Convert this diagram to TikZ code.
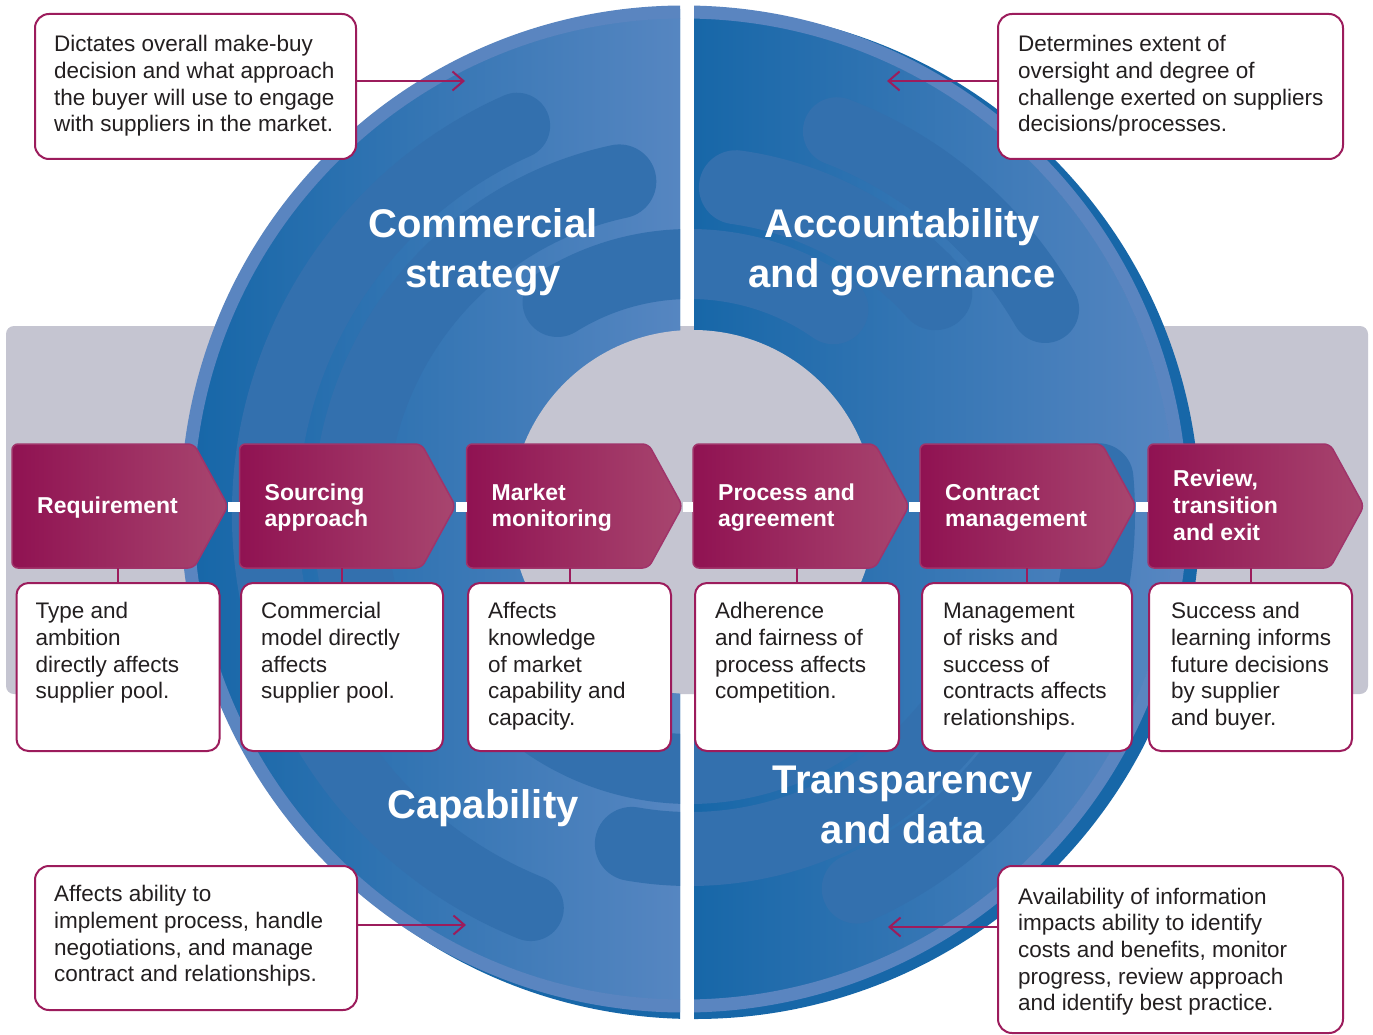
\documentclass[tikz,border=0pt]{standalone}
\usepackage{fontspec}
\setmainfont{Liberation Sans}
\usetikzlibrary{arrows.meta}

\definecolor{mag}{HTML}{9C1C5C}
\definecolor{chevA}{HTML}{901252}
\definecolor{chevB}{HTML}{A8466F}
\definecolor{chevE}{HTML}{A0346A}
\definecolor{bandgray}{HTML}{C5C5D1}
\definecolor{bdark}{HTML}{1767A8}
\definecolor{bmid}{HTML}{2A6AAC}
\definecolor{bmed}{HTML}{3370AE}
\definecolor{blight}{HTML}{5686C1}
\definecolor{brim}{HTML}{5A85C0}
\definecolor{ink}{HTML}{231F20}

\newcommand\bodyfont{\fontsize{22.5}{26.67}\selectfont}
\newcommand\chevfont{\fontsize{23}{26.67}\selectfont\bfseries}
\newcommand\titlefont{\fontsize{40}{50}\selectfont\bfseries}

\tikzset{
  calloutbox/.style={draw=mag, line width=2pt, rounded corners=14pt, fill=white, inner sep=0pt, anchor=north west},
  descbox/.style={draw=mag, line width=2pt, rounded corners=12pt, fill=white, inner sep=0pt, anchor=north west, minimum height=168pt},
  bodytext/.style={font=\bodyfont, text=ink, align=left, inner sep=0pt, anchor=north west},
  chevlabel/.style={font=\chevfont, text=white, align=left, inner sep=0pt, anchor=north west},
  titletext/.style={font=\titlefont, text=white, align=center, inner sep=0pt, anchor=north},
  chevshape/.style={left color=chevA, middle color=chevA!75!chevB, right color=chevB, draw=chevE, line width=1.5pt, rounded corners=6pt},
  capsule/.style={draw=bmed, line width=#1, line cap=round},
  capsule/.default=72pt,
  rimring/.style={draw=brim, line width=13pt},
  linkline/.style={draw=mag, line width=2pt},
  callarrow/.style={draw=mag, line width=2pt, -{Straight Barb[length=11pt,width=19pt]}},
  joinbar/.style={draw=white, line width=10pt}
}

\newcommand\chevron[4]{%
  \path[chevshape] (#2,444) -- ++(182,0) -- ++(34,62) -- ++(-34,62) -- ++(-182,0) -- cycle;
  \node[chevlabel] (#1) at (#2+25,#3) {\strut #4};
  \coordinate (#1-in) at (#2,507);
  \coordinate (#1-tip) at (#2+216,507);
  \coordinate (#1-bot) at (#2,568);
}

\newcommand\ringcaps{%
  \draw[capsule=66pt] (690,514) ++(112:425) arc[start angle=112, end angle=246, radius=425];
  \draw[capsule=74pt] (690,514) ++(150:340) arc[start angle=150, end angle=258, radius=340];
  \draw[capsule=70pt] (690,514) ++(238:250) arc[start angle=238, end angle=305, radius=250];
  \draw[capsule=74pt] (690,514) ++(40:335) arc[start angle=40, end angle=100, radius=335];
  \draw[capsule=70pt] (690,514) ++(55:255) arc[start angle=55, end angle=125, radius=255];
  \draw[capsule=68pt] (690,514) ++(291:410) arc[start angle=291, end angle=330, radius=410];
  \draw[capsule=74pt] (690,514) ++(278:330) arc[start angle=278, end angle=318, radius=330];
  \draw[capsule=70pt] (690,514) ++(-5:410) arc[start angle=-5, end angle=66, radius=410];
}

\begin{document}
\begin{tikzpicture}[x=1pt, y=-1pt]
\useasboundingbox (0,0) rectangle (1373,1035);
\fill[white] (0,0) rectangle (1373,1035);

% grey band
\fill[bandgray, rounded corners=8pt] (6,326) rectangle (1368,694);

% left half of the ring
\begin{scope}
  \clip (0,0) rectangle (680,1035);
  \fill[bdark] (695,514) circle[radius=505];
  \begin{scope}
    \clip (684,509) circle[radius=491];
    \fill[left color=bdark, middle color=bmid, right color=blight] (196,0) rectangle (680,1035);
    \ringcaps
  \end{scope}
  \draw[rimring] (684,509) circle[radius=497];
\end{scope}

% right half of the ring
\begin{scope}
  \clip (694,0) rectangle (1373,1035);
  \fill[bdark] (695,514) circle[radius=505];
  \begin{scope}
    \clip (684,509) circle[radius=491];
    \fill[left color=bdark, middle color=bmid, right color=blight] (694,0) rectangle (1175,1035);
    \ringcaps
  \end{scope}
  \draw[rimring] (684,509) circle[radius=497];
\end{scope}

% centre hole
\begin{scope}
  \clip (6,326) rectangle (1368,694);
  \fill[bandgray] (693,512) circle[radius=182];
\end{scope}

% quadrant titles
\node[titletext] (t1) at (483,202) {\strut Commercial\\strategy};
\node[titletext] (t2) at (902,202) {\strut Accountability\\and governance};
\node[titletext] (t3) at (483,783.3) {\strut Capability};
\node[titletext] (t4) at (903,758.3) {\strut Transparency\\and data};

% callouts
\node[calloutbox, minimum width=321pt, minimum height=145pt] (co1) at (34,13) {};
\node[bodytext] (co1t) at (54,33) {\strut Dictates overall make-buy\\decision and what approach\\the buyer will use to engage\\with suppliers in the market.};
\coordinate (a1) at (465,81);
\draw[callarrow] (co1.east |- a1) -- (a1);

\node[calloutbox, minimum width=345pt, minimum height=145pt] (co2) at (997,13) {};
\node[bodytext] (co2t) at (1018,33) {\strut Determines extent of\\oversight and degree of\\challenge exerted on suppliers\\decisions/processes.};
\coordinate (a2) at (887,81);
\draw[callarrow] (co2.west |- a2) -- (a2);

\node[calloutbox, minimum width=322pt, minimum height=144pt] (co3) at (34,865) {};
\node[bodytext] (co3t) at (54,883) {\strut Affects ability to\\implement process, handle\\negotiations, and manage\\contract and relationships.};
\coordinate (a3) at (466,925);
\draw[callarrow] (co3.east |- a3) -- (a3);

\node[calloutbox, minimum width=345pt, minimum height=167pt] (co4) at (997,865) {};
\node[bodytext] (co4t) at (1018,885.3) {\strut Availability of information\\impacts ability to identify\\costs and benefits, monitor\\progress, review approach\\and identify best practice.};
\coordinate (a4) at (888,927);
\draw[callarrow] (co4.west |- a4) -- (a4);

% process chevrons
\chevron{ch1}{12}{494.6}{Requirement}
\chevron{ch2}{239.5}{481.3}{Sourcing\\approach}
\chevron{ch3}{466.5}{481.3}{Market\\monitoring}
\chevron{ch4}{693}{481.3}{Process and\\agreement}
\chevron{ch5}{920}{481.3}{Contract\\management}
\chevron{ch6}{1148}{468}{Review,\\transition\\and exit}

\draw[joinbar] (ch1-tip) -- (ch2-in);
\draw[joinbar] (ch2-tip) -- (ch3-in);
\draw[joinbar] (ch3-tip) -- (ch4-in);
\draw[joinbar] (ch4-tip) -- (ch5-in);
\draw[joinbar] (ch5-tip) -- (ch6-in);

% description boxes
\node[descbox, minimum width=203pt] (d1) at (15.5,582) {};
\node[descbox, minimum width=202pt] (d2) at (240,582) {};
\node[descbox, minimum width=203pt] (d3) at (467,582) {};
\node[descbox, minimum width=204pt] (d4) at (694,582) {};
\node[descbox, minimum width=210pt] (d5) at (921,582) {};
\node[descbox, minimum width=203pt] (d6) at (1148,582) {};

\draw[linkline] (d1.north) -- (d1.north |- ch1-bot);
\draw[linkline] (d2.north) -- (d2.north |- ch2-bot);
\draw[linkline] (d3.north) -- (d3.north |- ch3-bot);
\draw[linkline] (d4.north) -- (d4.north |- ch4-bot);
\draw[linkline] (d5.north) -- (d5.north |- ch5-bot);
\draw[linkline] (d6.north) -- (d6.north |- ch6-bot);

\node[bodytext] (d1t) at (35.5,599.8) {\strut Type and\\ambition\\directly affects\\supplier pool.};
\node[bodytext] (d2t) at (261,599.8) {\strut Commercial\\model directly\\affects\\supplier pool.};
\node[bodytext] (d3t) at (488,599.8) {\strut Affects\\knowledge\\of market\\capability and\\capacity.};
\node[bodytext] (d4t) at (715,599.8) {\strut Adherence\\and fairness of\\process affects\\competition.};
\node[bodytext] (d5t) at (943,599.8) {\strut Management\\of risks and\\success of\\contracts affects\\relationships.};
\node[bodytext] (d6t) at (1171,599.8) {\strut Success and\\learning informs\\future decisions\\by supplier\\and buyer.};
\end{tikzpicture}
\end{document}
